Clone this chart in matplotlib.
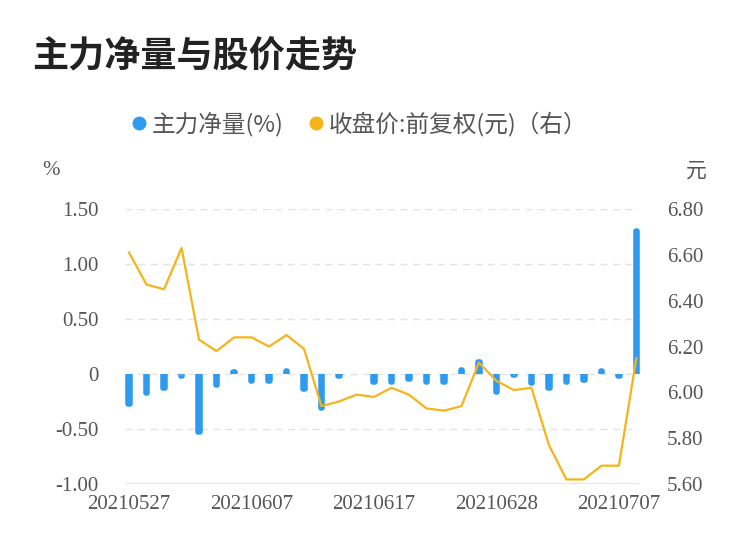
import matplotlib
matplotlib.use("Agg")
import matplotlib.pyplot as plt
from matplotlib.lines import Line2D
from matplotlib.patches import Rectangle

plt.rcParams['font.family'] = ['Noto Sans CJK SC', 'DejaVu Sans']

# data
dates = ['20210527', '20210528', '20210531', '20210601', '20210602', '20210603',
         '20210604', '20210607', '20210608', '20210609', '20210610', '20210611',
         '20210615', '20210616', '20210617', '20210618', '20210621', '20210622',
         '20210623', '20210624', '20210625', '20210628', '20210629', '20210630',
         '20210701', '20210702', '20210705', '20210706', '20210707', '20210708']
net_flow = [-0.27, -0.17, -0.13, -0.02, -0.53, -0.10, 0.02, -0.06, -0.06, 0.03,
            -0.14, -0.31, -0.02, 0.0, -0.07, -0.075, -0.045, -0.07, -0.075, 0.04,
            0.11, -0.16, -0.005, -0.085, -0.13, -0.07, -0.055, 0.03, -0.02, 1.30]
close = [6.61, 6.47, 6.45, 6.63, 6.23, 6.18, 6.24, 6.24, 6.20, 6.25,
         6.19, 5.94, 5.96, 5.99, 5.98, 6.02, 5.99, 5.93, 5.92, 5.94,
         6.13, 6.05, 6.01, 6.02, 5.77, 5.62, 5.62, 5.68, 5.68, 6.15]
left_ticks = [-1.0, -0.5, 0, 0.5, 1.0, 1.5]
left_labels = ['-1.00', '-0.50', '0', '0.50', '1.00', '1.50']
right_ticks = [5.6, 5.8, 6.0, 6.2, 6.4, 6.6, 6.8]

blue = '#2E9BF0'
gold = '#F4B41A'
grey_txt = '#555555'
serif = 'Liberation Serif'

x = list(range(len(dates)))

fig = plt.figure(figsize=(7.5, 5.58), dpi=100)
ax = fig.add_axes([0.1667, 0.1326, 0.6853, 0.4928])
ax2 = ax.twinx()

# thin bars with a thick round-joined edge -> rounded ends,
# clipped at zero so the base stays flat
bars = ax.bar(x, net_flow, width=0.08, color=blue, edgecolor=blue, linewidth=4,
              joinstyle='round', zorder=3)
for b, v in zip(bars, net_flow):
    if v == 0:
        b.set_visible(False)
        continue
    if v < 0:
        clip = Rectangle((-1, -2), 32, 2, transform=ax.transData)
    else:
        clip = Rectangle((-1, 0), 32, 2, transform=ax.transData)
    b.set_clip_path(clip)

ax2.plot(x, close, color=gold, linewidth=1.6, zorder=4)

ax.set_xlim(-0.23, 29.15)
ax.set_ylim(-1.0, 1.5)
ax2.set_ylim(5.6, 6.8)

# grid
for t in left_ticks[1:]:
    ax.axhline(t, color='#E3E3E3', linewidth=1, linestyle=(0, (5, 4)), zorder=1)
ax.axhline(-1.0, color='#E3E3E3', linewidth=1.2, zorder=1)

for a in (ax, ax2):
    for s in a.spines.values():
        s.set_visible(False)

ax.set_yticks(left_ticks)
ax.set_yticklabels(left_labels, fontfamily=serif, fontsize=15, color=grey_txt)
ax.tick_params(axis='y', length=0, pad=19)
ax2.set_yticks(right_ticks)
ax2.set_yticklabels(['%.2f' % v for v in right_ticks], fontfamily=serif,
                    fontsize=15, color=grey_txt)
ax2.tick_params(axis='y', length=0, pad=20)

tick_idx = [0, 7, 14, 21, 28]
ax.set_xticks(tick_idx)
ax.set_xticklabels([dates[i] for i in tick_idx], fontfamily=serif, fontsize=15,
                   color=grey_txt)
ax.tick_params(axis='x', length=0, pad=8)

fig.text(0.068, 0.695, '%', fontfamily=serif, fontsize=15, color=grey_txt,
         ha='center', va='center')
fig.text(0.929, 0.695, '元', fontsize=15, color=grey_txt, ha='center', va='center')

fig.text(0.043, 0.898, '主力净量与股价走势', fontsize=26, fontweight='bold',
         color='#222222', ha='left', va='center')

handles = [Line2D([], [], marker='o', linestyle='none', markersize=9,
                  markerfacecolor=blue, markeredgecolor=blue),
           Line2D([], [], marker='o', linestyle='none', markersize=9,
                  markerfacecolor=gold, markeredgecolor=gold)]
leg = fig.legend(handles, ['主力净量(%)', '收盘价:前复权(元)（右）'],
                 loc='center', bbox_to_anchor=(0.48, 0.778), ncol=2,
                 frameon=False, fontsize=17, handlelength=0.5,
                 handletextpad=0.3, columnspacing=1.1)
for t in leg.get_texts():
    t.set_color(grey_txt)

fig.savefig('out.png', dpi=100)
